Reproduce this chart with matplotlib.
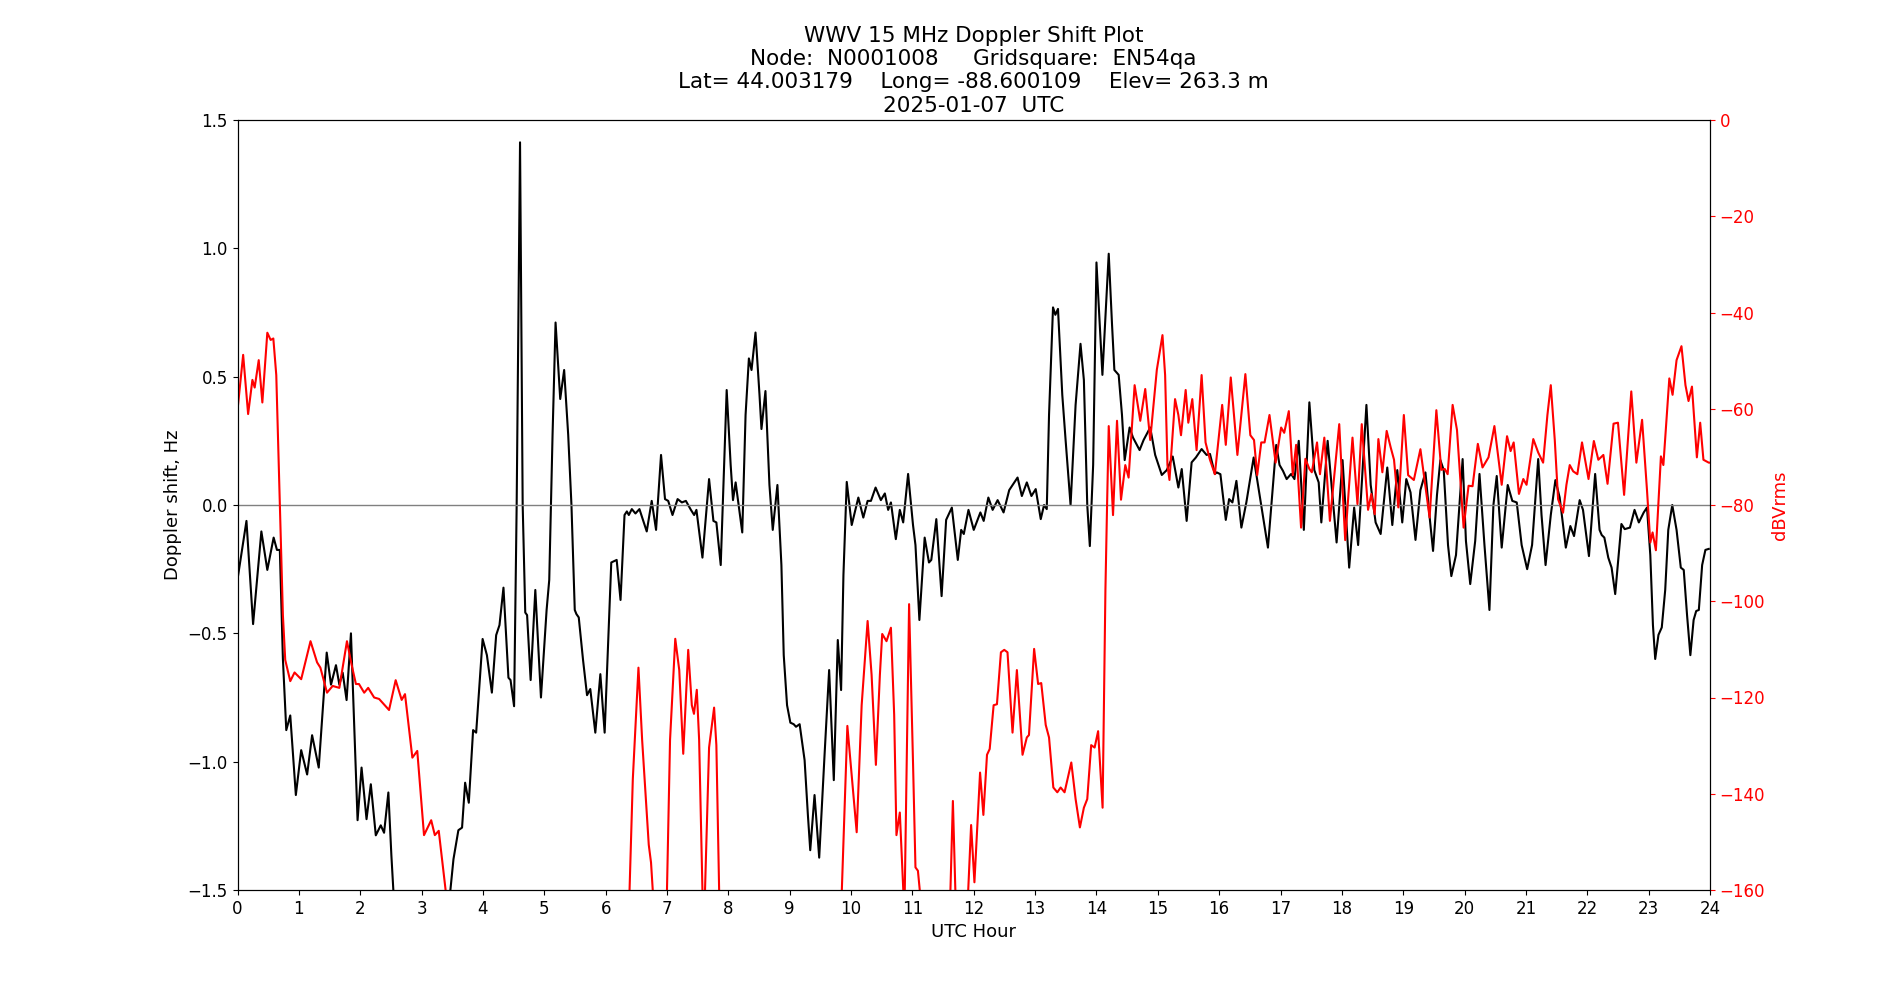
import matplotlib
matplotlib.use("Agg")
import matplotlib.pyplot as plt

# Doppler shift (Hz) series: hour, value
dop_hours = [0.0,0.146,0.254,0.389,0.486,0.589,0.643,0.69,0.74,0.795,0.86,0.951,1.038,1.135,1.216,1.324,1.454,1.524,1.605,1.66,1.714,1.778,1.849,1.957,2.022,2.103,2.173,2.254,2.335,2.389,2.459,2.508,2.54,2.6,3.4,3.47,3.52,3.6,3.66,3.71,3.77,3.84,3.89,3.995,4.065,4.146,4.216,4.27,4.335,4.416,4.45,4.508,4.55,4.605,4.648,4.69,4.72,4.778,4.854,4.946,5.038,5.081,5.135,5.184,5.26,5.324,5.39,5.443,5.497,5.524,5.562,5.632,5.697,5.75,5.832,5.914,5.984,6.092,6.146,6.18,6.243,6.308,6.346,6.378,6.427,6.486,6.551,6.67,6.751,6.822,6.903,6.968,7.02,7.09,7.173,7.243,7.308,7.39,7.443,7.48,7.578,7.686,7.757,7.805,7.876,7.973,8.038,8.076,8.119,8.227,8.281,8.335,8.378,8.443,8.508,8.54,8.605,8.67,8.724,8.8,8.865,8.903,8.957,9.011,9.065,9.103,9.162,9.243,9.297,9.335,9.405,9.481,9.568,9.643,9.719,9.784,9.838,9.876,9.93,10.011,10.119,10.2,10.27,10.324,10.4,10.486,10.551,10.605,10.65,10.73,10.795,10.85,10.93,11.01,11.05,11.114,11.2,11.27,11.308,11.39,11.476,11.55,11.643,11.74,11.795,11.838,11.914,12.0,12.108,12.162,12.238,12.308,12.389,12.486,12.578,12.714,12.784,12.865,12.94,13.01,13.092,13.146,13.19,13.227,13.292,13.33,13.373,13.443,13.497,13.578,13.66,13.74,13.795,13.85,13.892,13.946,14.0,14.097,14.2,14.254,14.292,14.362,14.416,14.46,14.54,14.595,14.703,14.768,14.876,14.957,15.065,15.146,15.243,15.335,15.39,15.47,15.551,15.62,15.714,15.795,15.85,15.93,15.96,16.02,16.108,16.162,16.216,16.281,16.362,16.443,16.562,16.659,16.795,16.93,16.984,17.04,17.1,17.173,17.227,17.297,17.38,17.47,17.551,17.622,17.665,17.768,17.914,18.011,18.119,18.2,18.265,18.4,18.47,18.55,18.632,18.74,18.822,18.903,18.984,19.05,19.119,19.2,19.28,19.362,19.427,19.486,19.55,19.605,19.66,19.73,19.784,19.86,19.968,20.022,20.092,20.173,20.243,20.324,20.405,20.47,20.524,20.605,20.703,20.778,20.85,20.93,21.02,21.1,21.2,21.254,21.32,21.405,21.48,21.55,21.65,21.724,21.784,21.876,21.93,22.027,22.128,22.2,22.235,22.278,22.342,22.396,22.455,22.556,22.61,22.695,22.77,22.84,22.92,22.973,23.027,23.07,23.107,23.16,23.214,23.27,23.32,23.385,23.455,23.524,23.572,23.626,23.68,23.733,23.775,23.818,23.872,23.925,23.98]
dop_hz = [-0.29,-0.062,-0.464,-0.103,-0.253,-0.127,-0.175,-0.175,-0.6,-0.877,-0.82,-1.13,-0.955,-1.05,-0.897,-1.023,-0.575,-0.70,-0.624,-0.70,-0.653,-0.76,-0.50,-1.228,-1.023,-1.224,-1.088,-1.287,-1.248,-1.277,-1.12,-1.365,-1.5,-1.8,-1.8,-1.5,-1.38,-1.267,-1.257,-1.082,-1.16,-0.877,-0.887,-0.522,-0.585,-0.731,-0.507,-0.468,-0.322,-0.673,-0.682,-0.784,0.0,1.413,0.0,-0.419,-0.429,-0.682,-0.331,-0.75,-0.409,-0.292,0.273,0.711,0.413,0.526,0.273,0.0,-0.409,-0.425,-0.438,-0.604,-0.741,-0.717,-0.887,-0.659,-0.887,-0.224,-0.218,-0.214,-0.37,-0.039,-0.025,-0.039,-0.016,-0.033,-0.016,-0.103,0.016,-0.097,0.195,0.023,0.016,-0.039,0.023,0.01,0.016,-0.019,-0.039,-0.019,-0.205,0.101,-0.062,-0.068,-0.234,0.448,0.156,0.019,0.088,-0.107,0.351,0.571,0.526,0.672,0.429,0.296,0.444,0.078,-0.097,0.078,-0.234,-0.585,-0.78,-0.848,-0.854,-0.864,-0.854,-0.994,-1.209,-1.345,-1.13,-1.374,-0.975,-0.643,-1.072,-0.526,-0.721,-0.273,0.09,-0.078,0.029,-0.049,0.016,0.016,0.068,0.019,0.045,-0.019,0.01,-0.133,-0.019,-0.068,0.121,-0.078,-0.156,-0.448,-0.127,-0.224,-0.214,-0.055,-0.355,-0.058,-0.01,-0.214,-0.097,-0.113,-0.019,-0.097,-0.029,-0.062,0.029,-0.019,0.019,-0.029,0.058,0.107,0.035,0.088,0.035,0.062,-0.055,0.0,-0.016,0.351,0.77,0.741,0.764,0.429,0.253,0.0,0.39,0.628,0.487,0.0,-0.16,0.156,0.945,0.507,0.979,0.702,0.526,0.507,0.351,0.175,0.302,0.263,0.214,0.253,0.302,0.195,0.117,0.136,0.189,0.068,0.14,-0.062,0.166,0.185,0.218,0.195,0.199,0.121,0.127,0.12,-0.058,0.023,0.01,0.094,-0.088,0.01,0.185,0.039,-0.166,0.234,0.156,0.133,0.101,0.121,0.101,0.25,-0.097,0.4,0.136,0.088,-0.068,0.25,-0.146,0.175,-0.244,-0.01,-0.156,0.39,0.078,-0.068,-0.113,0.146,-0.078,0.136,-0.068,0.101,0.049,-0.136,0.058,0.127,-0.039,-0.179,0.039,0.175,0.136,-0.156,-0.277,-0.195,0.179,-0.14,-0.308,-0.14,0.121,-0.156,-0.409,0.0,0.113,-0.166,0.078,0.016,0.01,-0.156,-0.25,-0.156,0.179,-0.039,-0.234,-0.039,0.097,0.029,-0.166,-0.082,-0.121,0.019,-0.019,-0.199,0.121,-0.097,-0.117,-0.127,-0.205,-0.244,-0.347,-0.074,-0.094,-0.088,-0.019,-0.068,-0.029,-0.01,-0.195,-0.468,-0.6,-0.506,-0.477,-0.331,-0.097,0.0,-0.097,-0.244,-0.253,-0.429,-0.585,-0.448,-0.413,-0.409,-0.234,-0.175,-0.171]

# Signal level (dBVrms) series: hour, value
pwr_hours = [0.0,0.092,0.173,0.243,0.28,0.346,0.405,0.486,0.54,0.584,0.632,0.686,0.74,0.778,0.86,0.93,1.038,1.19,1.297,1.351,1.459,1.551,1.66,1.784,1.86,1.93,1.98,2.065,2.13,2.227,2.308,2.47,2.578,2.676,2.73,2.85,2.93,3.04,3.157,3.216,3.28,3.39,3.45,6.3,6.39,6.443,6.535,6.595,6.703,6.74,6.768,6.8,6.97,7.0,7.05,7.135,7.2,7.265,7.346,7.405,7.44,7.486,7.524,7.578,7.6,7.62,7.686,7.768,7.805,7.85,7.9,9.8,9.85,9.94,10.092,10.173,10.27,10.335,10.405,10.47,10.508,10.578,10.65,10.703,10.74,10.795,10.85,10.862,10.876,10.946,11.011,11.05,11.09,11.12,11.15,11.59,11.62,11.66,11.7,11.72,11.89,11.91,11.957,12.011,12.103,12.157,12.216,12.26,12.324,12.378,12.443,12.497,12.55,12.632,12.703,12.795,12.865,12.9,12.984,13.049,13.1,13.173,13.227,13.297,13.362,13.416,13.48,13.59,13.66,13.73,13.795,13.85,13.914,13.97,14.027,14.1,14.146,14.173,14.2,14.27,14.335,14.4,14.47,14.524,14.622,14.714,14.795,14.876,14.984,15.076,15.119,15.157,15.19,15.281,15.335,15.378,15.454,15.497,15.562,15.632,15.714,15.778,15.85,15.93,16.049,16.108,16.189,16.297,16.427,16.508,16.568,16.62,16.686,16.74,16.82,16.92,17.01,17.06,17.135,17.2,17.254,17.335,17.405,17.47,17.51,17.595,17.643,17.714,17.805,17.957,18.054,18.173,18.254,18.324,18.427,18.48,18.535,18.595,18.66,18.73,18.795,18.85,18.92,19.01,19.08,19.173,19.28,19.43,19.54,19.62,19.676,19.724,19.805,19.876,19.984,20.065,20.13,20.216,20.292,20.39,20.486,20.605,20.692,20.75,20.8,20.886,20.957,21.01,21.12,21.2,21.28,21.35,21.405,21.47,21.524,21.605,21.66,21.714,21.77,21.838,21.914,22.02,22.107,22.18,22.262,22.33,22.428,22.5,22.6,22.717,22.8,22.893,22.973,23.027,23.064,23.118,23.2,23.24,23.337,23.39,23.455,23.535,23.6,23.65,23.706,23.786,23.84,23.893,23.98,24.0]
pwr_db = [-60.3,-48.8,-61.1,-54.0,-55.6,-49.9,-58.7,-44.2,-45.7,-45.4,-53.0,-77.9,-102.9,-112.2,-116.6,-114.8,-116.2,-108.3,-112.7,-113.8,-119.0,-117.6,-118.0,-108.3,-113.2,-117.2,-117.2,-119.0,-118.0,-120.0,-120.3,-122.6,-116.4,-120.5,-119.3,-132.5,-131.1,-148.6,-145.5,-148.6,-147.7,-159.8,-170,-170,-160,-137,-113.8,-128.8,-150.6,-154.3,-160,-170,-170,-160,-128.8,-107.8,-114.3,-131.7,-110.1,-121.6,-123.4,-118.4,-128.8,-160,-166,-160,-130.4,-122.1,-129.9,-160,-170,-170,-160,-125.9,-148.0,-121.6,-104.1,-115.3,-134.0,-115.3,-106.8,-108.3,-105.5,-123.6,-148.6,-143.9,-160,-163,-160,-100.6,-134.0,-155.3,-156.0,-160,-170,-170,-160,-141.5,-160,-165,-165,-160,-146.5,-158.4,-135.6,-144.4,-131.9,-130.7,-121.6,-121.4,-110.6,-110.1,-110.6,-127.3,-114.3,-131.9,-128.3,-127.8,-109.9,-117.2,-117.0,-125.7,-128.3,-138.7,-139.7,-138.7,-139.7,-133.5,-141.1,-147.0,-142.9,-141.1,-129.9,-130.4,-127.0,-142.9,-97.7,-80.0,-63.6,-82.1,-62.5,-78.9,-71.7,-74.3,-55.1,-62.5,-55.9,-66.5,-51.9,-44.7,-53.0,-71.7,-74.8,-58.0,-61.3,-65.5,-56.1,-62.9,-58.0,-68.6,-53.0,-67.0,-70.6,-73.6,-59.2,-67.5,-53.5,-69.6,-52.8,-65.5,-66.5,-73.8,-67.0,-67.0,-61.3,-71.2,-63.9,-65.0,-60.5,-73.8,-67.5,-84.7,-70.4,-72.5,-73.2,-67.0,-73.6,-66.0,-83.3,-63.2,-87.3,-66.0,-79.8,-63.2,-81.0,-77.7,-81.9,-66.3,-73.2,-64.6,-68.0,-70.6,-80.5,-61.3,-73.8,-74.8,-68.4,-82.6,-60.3,-72.7,-72.5,-73.6,-59.2,-64.4,-84.7,-76.0,-76.1,-67.3,-72.2,-70.1,-63.6,-75.8,-65.7,-68.8,-67.0,-77.7,-74.6,-75.8,-66.3,-69.1,-71.2,-61.3,-55.1,-66.5,-78.8,-81.6,-75.8,-71.7,-73.0,-73.6,-67.0,-74.6,-66.7,-70.6,-69.6,-75.6,-63.1,-62.9,-77.9,-56.4,-71.2,-62.3,-76.9,-87.8,-85.7,-89.4,-69.9,-71.7,-53.7,-57.1,-49.9,-47.0,-55.1,-58.4,-55.4,-70.1,-62.9,-70.6,-71.2,-71.2]

x_ticks = list(range(0, 25))
title_lines = ["WWV 15 MHz Doppler Shift Plot",
               "Node:  N0001008     Gridsquare:  EN54qa",
               "Lat= 44.003179    Long= -88.600109    Elev= 263.3 m",
               "2025-01-07  UTC"]

fig, ax1 = plt.subplots(figsize=(19, 10), dpi=100)
ax1.plot(dop_hours, dop_hz, color="black", linewidth=1.5)
ax1.axhline(0, color="gray", linewidth=1)
ax1.set_xlim(0, 24)
ax1.set_ylim(-1.5, 1.5)
ax1.set_xticks(x_ticks)
ax1.set_xlabel("UTC Hour", fontsize=13)
ax1.set_ylabel("Doppler shift, Hz", fontsize=13)
ax1.tick_params(labelsize=12)

ax2 = ax1.twinx()
ax2.plot(pwr_hours, pwr_db, color="red", linewidth=1.5)
ax2.set_ylim(-160, 0)
ax2.set_ylabel("dBVrms", color="red", fontsize=13)
ax2.tick_params(axis="y", colors="red", labelsize=12)

ax1.set_title("\n".join(title_lines), fontsize=15.5)

fig.savefig("out.png", dpi=100)
